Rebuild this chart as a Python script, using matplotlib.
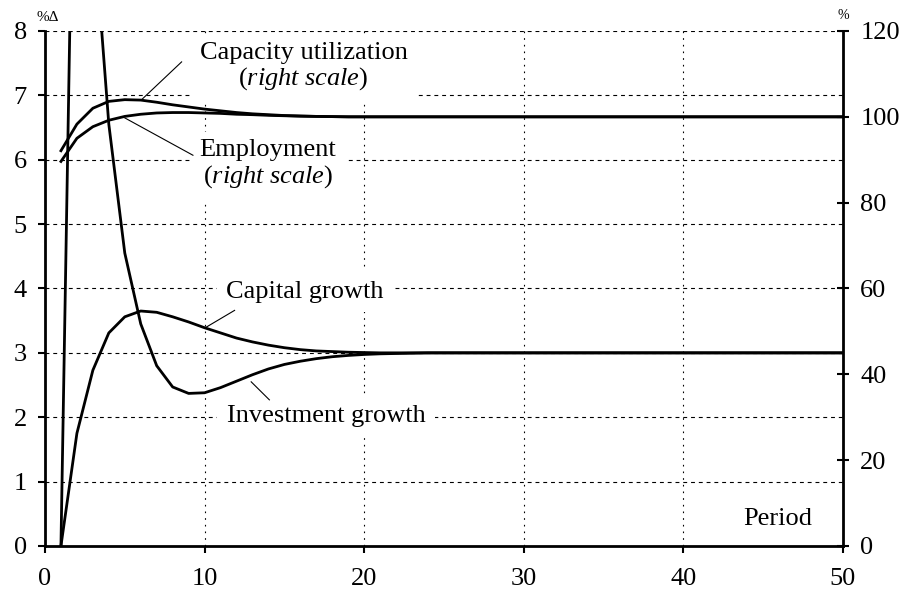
import matplotlib
matplotlib.use("Agg")
import matplotlib.pyplot as plt

plt.rcParams['font.family'] = ['Liberation Serif', 'DejaVu Serif']
plt.rcParams['mathtext.fontset'] = 'custom'
plt.rcParams['mathtext.rm'] = 'Liberation Serif'
plt.rcParams['mathtext.it'] = 'Liberation Serif:italic'

# Periods 1..50
period = list(range(1, 51))

# left scale (%)
investment_growth = [0.0, 14.5, 9.8, 6.55, 4.55, 3.45, 2.8, 2.47, 2.37, 2.38,
                     2.46, 2.56, 2.66, 2.75, 2.82, 2.87, 2.91, 2.94, 2.96, 2.975,
                     2.985, 2.99, 2.995, 3.0, 3.0, 3.0, 3.0, 3.0, 3.0, 3.0,
                     3.0, 3.0, 3.0, 3.0, 3.0, 3.0, 3.0, 3.0, 3.0, 3.0,
                     3.0, 3.0, 3.0, 3.0, 3.0, 3.0, 3.0, 3.0, 3.0, 3.0]
capital_growth = [0.0, 1.75, 2.73, 3.31, 3.56, 3.65, 3.63, 3.56, 3.48, 3.39,
                  3.31, 3.23, 3.17, 3.12, 3.08, 3.05, 3.03, 3.02, 3.01, 3.005,
                  3.0, 3.0, 3.0, 3.0, 3.0, 3.0, 3.0, 3.0, 3.0, 3.0,
                  3.0, 3.0, 3.0, 3.0, 3.0, 3.0, 3.0, 3.0, 3.0, 3.0,
                  3.0, 3.0, 3.0, 3.0, 3.0, 3.0, 3.0, 3.0, 3.0, 3.0]

# right scale (%)
capacity_util = [92.1, 98.3, 102.0, 103.6, 104.0, 103.9, 103.4, 102.8, 102.3, 101.8,
                 101.4, 101.0, 100.7, 100.5, 100.3, 100.2, 100.1, 100.05, 100.0, 100.0,
                 100.0, 100.0, 100.0, 100.0, 100.0, 100.0, 100.0, 100.0, 100.0, 100.0,
                 100.0, 100.0, 100.0, 100.0, 100.0, 100.0, 100.0, 100.0, 100.0, 100.0,
                 100.0, 100.0, 100.0, 100.0, 100.0, 100.0, 100.0, 100.0, 100.0, 100.0]
employment = [89.6, 95.0, 97.7, 99.2, 100.1, 100.6, 100.9, 101.0, 101.0, 100.9,
              100.8, 100.6, 100.5, 100.35, 100.25, 100.15, 100.1, 100.05, 100.0, 100.0,
              100.0, 100.0, 100.0, 100.0, 100.0, 100.0, 100.0, 100.0, 100.0, 100.0,
              100.0, 100.0, 100.0, 100.0, 100.0, 100.0, 100.0, 100.0, 100.0, 100.0,
              100.0, 100.0, 100.0, 100.0, 100.0, 100.0, 100.0, 100.0, 100.0, 100.0]

x_ticks = [0, 10, 20, 30, 40, 50]
left_ticks = [0, 1, 2, 3, 4, 5, 6, 7, 8]
right_ticks = [0, 20, 40, 60, 80, 100, 120]

fig = plt.figure(figsize=(9.07, 5.95), dpi=100)
ax = fig.add_axes([0.0496, 0.0824, 0.8798, 0.8655])
ax2 = ax.twinx()

ax.set_xlim(0, 50)
ax.set_ylim(0, 8)
ax2.set_ylim(0, 120)

# gridlines: dashed horizontal, dotted vertical (top one stays above the label boxes)
for y in left_ticks[1:]:
    ax.axhline(y, color='black', lw=0.8, ls=(0, (3.5, 3.5)), zorder=3.5 if y == 8 else 1)
for x in x_ticks[1:-1]:
    ax.axvline(x, color='black', lw=0.8, ls=(0, (1.5, 4.5)), zorder=1)

ax.plot(period, investment_growth, color='black', lw=2.0, zorder=5)
ax.plot(period, capital_growth, color='black', lw=2.0, zorder=5)
ax2.plot(period, capacity_util, color='black', lw=2.0, zorder=5)
ax2.plot(period, employment, color='black', lw=2.0, zorder=5)

for a in (ax, ax2):
    for s in a.spines.values():
        s.set_linewidth(2.0)
ax.spines['top'].set_visible(False)
ax.spines['right'].set_visible(False)
for s in ('top', 'left', 'bottom'):
    ax2.spines[s].set_visible(False)

ax.set_xticks(x_ticks)
ax.set_yticks(left_ticks)
ax2.set_yticks(right_ticks)
ax.tick_params(axis='x', direction='out', length=5, width=1.5, labelsize=19, pad=11)
ax.tick_params(axis='y', direction='out', length=5, width=1.5, labelsize=19, pad=8)
ax2.tick_params(axis='y', direction='inout', length=9, width=1.5, labelsize=19, pad=8)

box = dict(facecolor='white', edgecolor='none', pad=7)
ax.text(16.2, 7.44, 'Capacity utilization\n($\\mathit{right\\ scale}$)', fontsize=19,
        ha='center', va='center', multialignment='center', linespacing=1.1,
        bbox=box, zorder=3)
ax.text(13.97, 5.92, 'Employment\n($\\mathit{right\\ scale}$)', fontsize=19,
        ha='center', va='center', multialignment='center', linespacing=1.1,
        bbox=box, zorder=3)
ax.text(16.3, 3.95, 'Capital growth', fontsize=19, ha='center', va='center',
        bbox=box, zorder=3)
ax.text(17.6, 2.02, 'Investment growth', fontsize=19, ha='center', va='center',
        bbox=box, zorder=3)
ax.text(45.9, 0.42, 'Period', fontsize=19, ha='center', va='center', zorder=3)

# leader lines
ax.plot([8.56, 6.04], [7.52, 6.93], color='black', lw=0.8, zorder=4)
ax.plot([9.27, 5.0], [6.07, 6.65], color='black', lw=0.8, zorder=4)
ax.plot([11.88, 10.04], [3.66, 3.39], color='black', lw=0.8, zorder=4)
ax.plot([12.92, 14.06], [2.55, 2.27], color='black', lw=0.8, zorder=4)

ax.text(0.2, 8.21, '%\u0394', fontsize=11, ha='center', va='center', clip_on=False)
ax.text(50, 8.24, '%', fontsize=10, ha='center', va='center', clip_on=False)

fig.savefig('out.png', dpi=100)
